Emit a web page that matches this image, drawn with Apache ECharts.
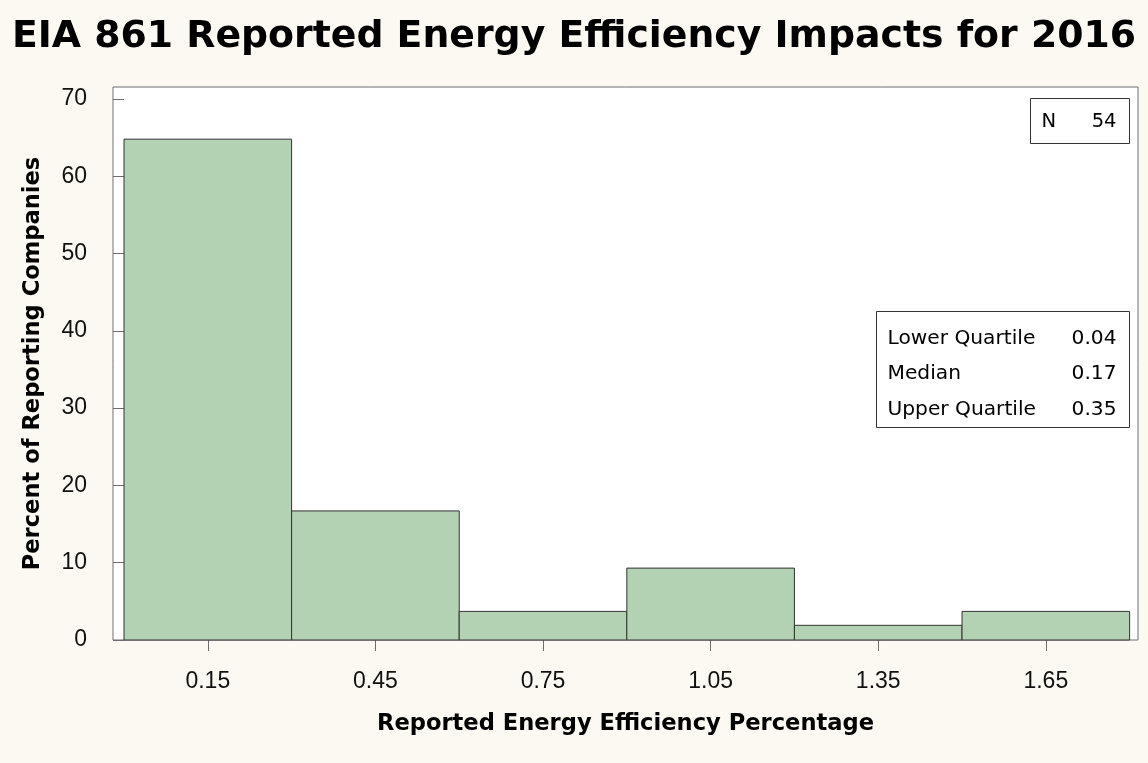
<!DOCTYPE html>
<html>
<head>
<meta charset="utf-8">
<script src="https://cdn.jsdelivr.net/npm/echarts@6/dist/echarts.min.js"></script>
<style>
  html, body { margin: 0; padding: 0; background: #fcf9f2; }
  #chart { width: 1148px; height: 763px; }
</style>
</head>
<body>
<div id="chart"></div>
<script>
// histogram bins (percent of reporting companies, N = 54)
const binStarts = [0, 0.3, 0.6, 0.9, 1.2, 1.5];
const binEnds = [0.3, 0.6, 0.9, 1.2, 1.5, 1.8];
const percents = [64.8, 16.7, 3.7, 9.3, 1.9, 3.7];
const xTicks = [0.15, 0.45, 0.75, 1.05, 1.35, 1.65];
const yTicks = [0, 10, 20, 30, 40, 50, 60, 70];
const statLabels = ['Lower Quartile', 'Median', 'Upper Quartile'];
const statValues = ['0.04', '0.17', '0.35'];
const nCount = 54;

const wideFont = "'DejaVu Sans', Verdana, sans-serif";
const tickFont = "'Liberation Sans', Arial, sans-serif";

const histData = binStarts.map((s, i) => [s, binEnds[i], percents[i]]);

const chart = echarts.init(document.getElementById('chart'));

let option = {
    backgroundColor: '#fcf9f2',
    animation: false,
    title: {
        text: 'EIA 861 Reported Energy Efficiency Impacts for 2016',
        left: 'center',
        top: 13,
        textStyle: { fontFamily: wideFont, fontSize: 37.8, fontWeight: 'bold', color: '#000' }
    },
    grid: {
        left: 113,
        right: 10,
        top: 87,
        bottom: 123,
        show: true,
        backgroundColor: '#fff',
        borderColor: '#6e6e6e',
        borderWidth: 1
    },
    xAxis: {
        type: 'value',
        min: -0.0197,
        max: 1.815,
        name: 'Reported Energy Efficiency Percentage',
        nameLocation: 'middle',
        nameGap: 73,
        nameTextStyle: { fontFamily: wideFont, fontSize: 22.6, fontWeight: 'bold', color: '#000' },
        axisLine: { show: false },
        splitLine: { show: false },
        axisTick: { show: true, inside: false, length: 11, customValues: xTicks, lineStyle: { color: '#6e6e6e' } },
        axisLabel: {
            customValues: xTicks,
            formatter: v => v.toFixed(2),
            margin: 30,
            fontFamily: tickFont, fontSize: 23, color: '#111'
        }
    },
    yAxis: {
        type: 'value',
        min: 0,
        max: 71.55,
        name: 'Percent of Reporting Companies',
        nameLocation: 'middle',
        nameGap: 68,
        nameTextStyle: { fontFamily: wideFont, fontSize: 22.6, fontWeight: 'bold', color: '#000' },
        axisLine: { show: false },
        splitLine: { show: false },
        axisTick: { show: true, inside: false, length: 11, customValues: yTicks, lineStyle: { color: '#6e6e6e' } },
        axisLabel: {
            customValues: yTicks,
            margin: 26,
            fontFamily: tickFont, fontSize: 23, color: '#111'
        }
    },
    series: [{
        type: 'custom',
        data: histData,
        encode: { x: [0, 1], y: 2 },
        renderItem: function (params, api) {
            const topLeft = api.coord([api.value(0), api.value(2)]);
            const bottomRight = api.coord([api.value(1), 0]);
            return {
                type: 'rect',
                shape: {
                    x: topLeft[0],
                    y: topLeft[1],
                    width: bottomRight[0] - topLeft[0],
                    height: bottomRight[1] - topLeft[1]
                },
                style: { fill: '#b3d1b3', stroke: '#333', lineWidth: 1 }
            };
        }
    }],
    graphic: [
        {
            type: 'group',
            right: 18,
            top: 98,
            children: [
                { type: 'rect', shape: { x: 0, y: 0, width: 99, height: 45 },
                  style: { fill: '#fff', stroke: '#333', lineWidth: 1 } },
                { type: 'text', x: 11, y: 23,
                  style: { text: 'N', fontFamily: wideFont, fontSize: 19.5, fill: '#000', verticalAlign: 'middle' } },
                { type: 'text', x: 86, y: 23,
                  style: { text: String(nCount), fontFamily: wideFont, fontSize: 19.5, fill: '#000', align: 'right', verticalAlign: 'middle' } }
            ]
        },
        {
            type: 'group',
            right: 18,
            top: 311,
            children: [
                { type: 'rect', shape: { x: 0, y: 0, width: 253, height: 116 },
                  style: { fill: '#fff', stroke: '#333', lineWidth: 1 } }
            ].concat(statLabels.map((t, i) => ({
                type: 'text', x: 11, y: 27 + i * 35.5,
                style: { text: t, fontFamily: wideFont, fontSize: 20.2, fill: '#000', verticalAlign: 'middle' }
            }))).concat(statValues.map((t, i) => ({
                type: 'text', x: 240, y: 27 + i * 35.5,
                style: { text: t, fontFamily: wideFont, fontSize: 20.2, fill: '#000', align: 'right', verticalAlign: 'middle' }
            })))
        }
    ]
};
chart.setOption(option);
</script>
</body>
</html>
